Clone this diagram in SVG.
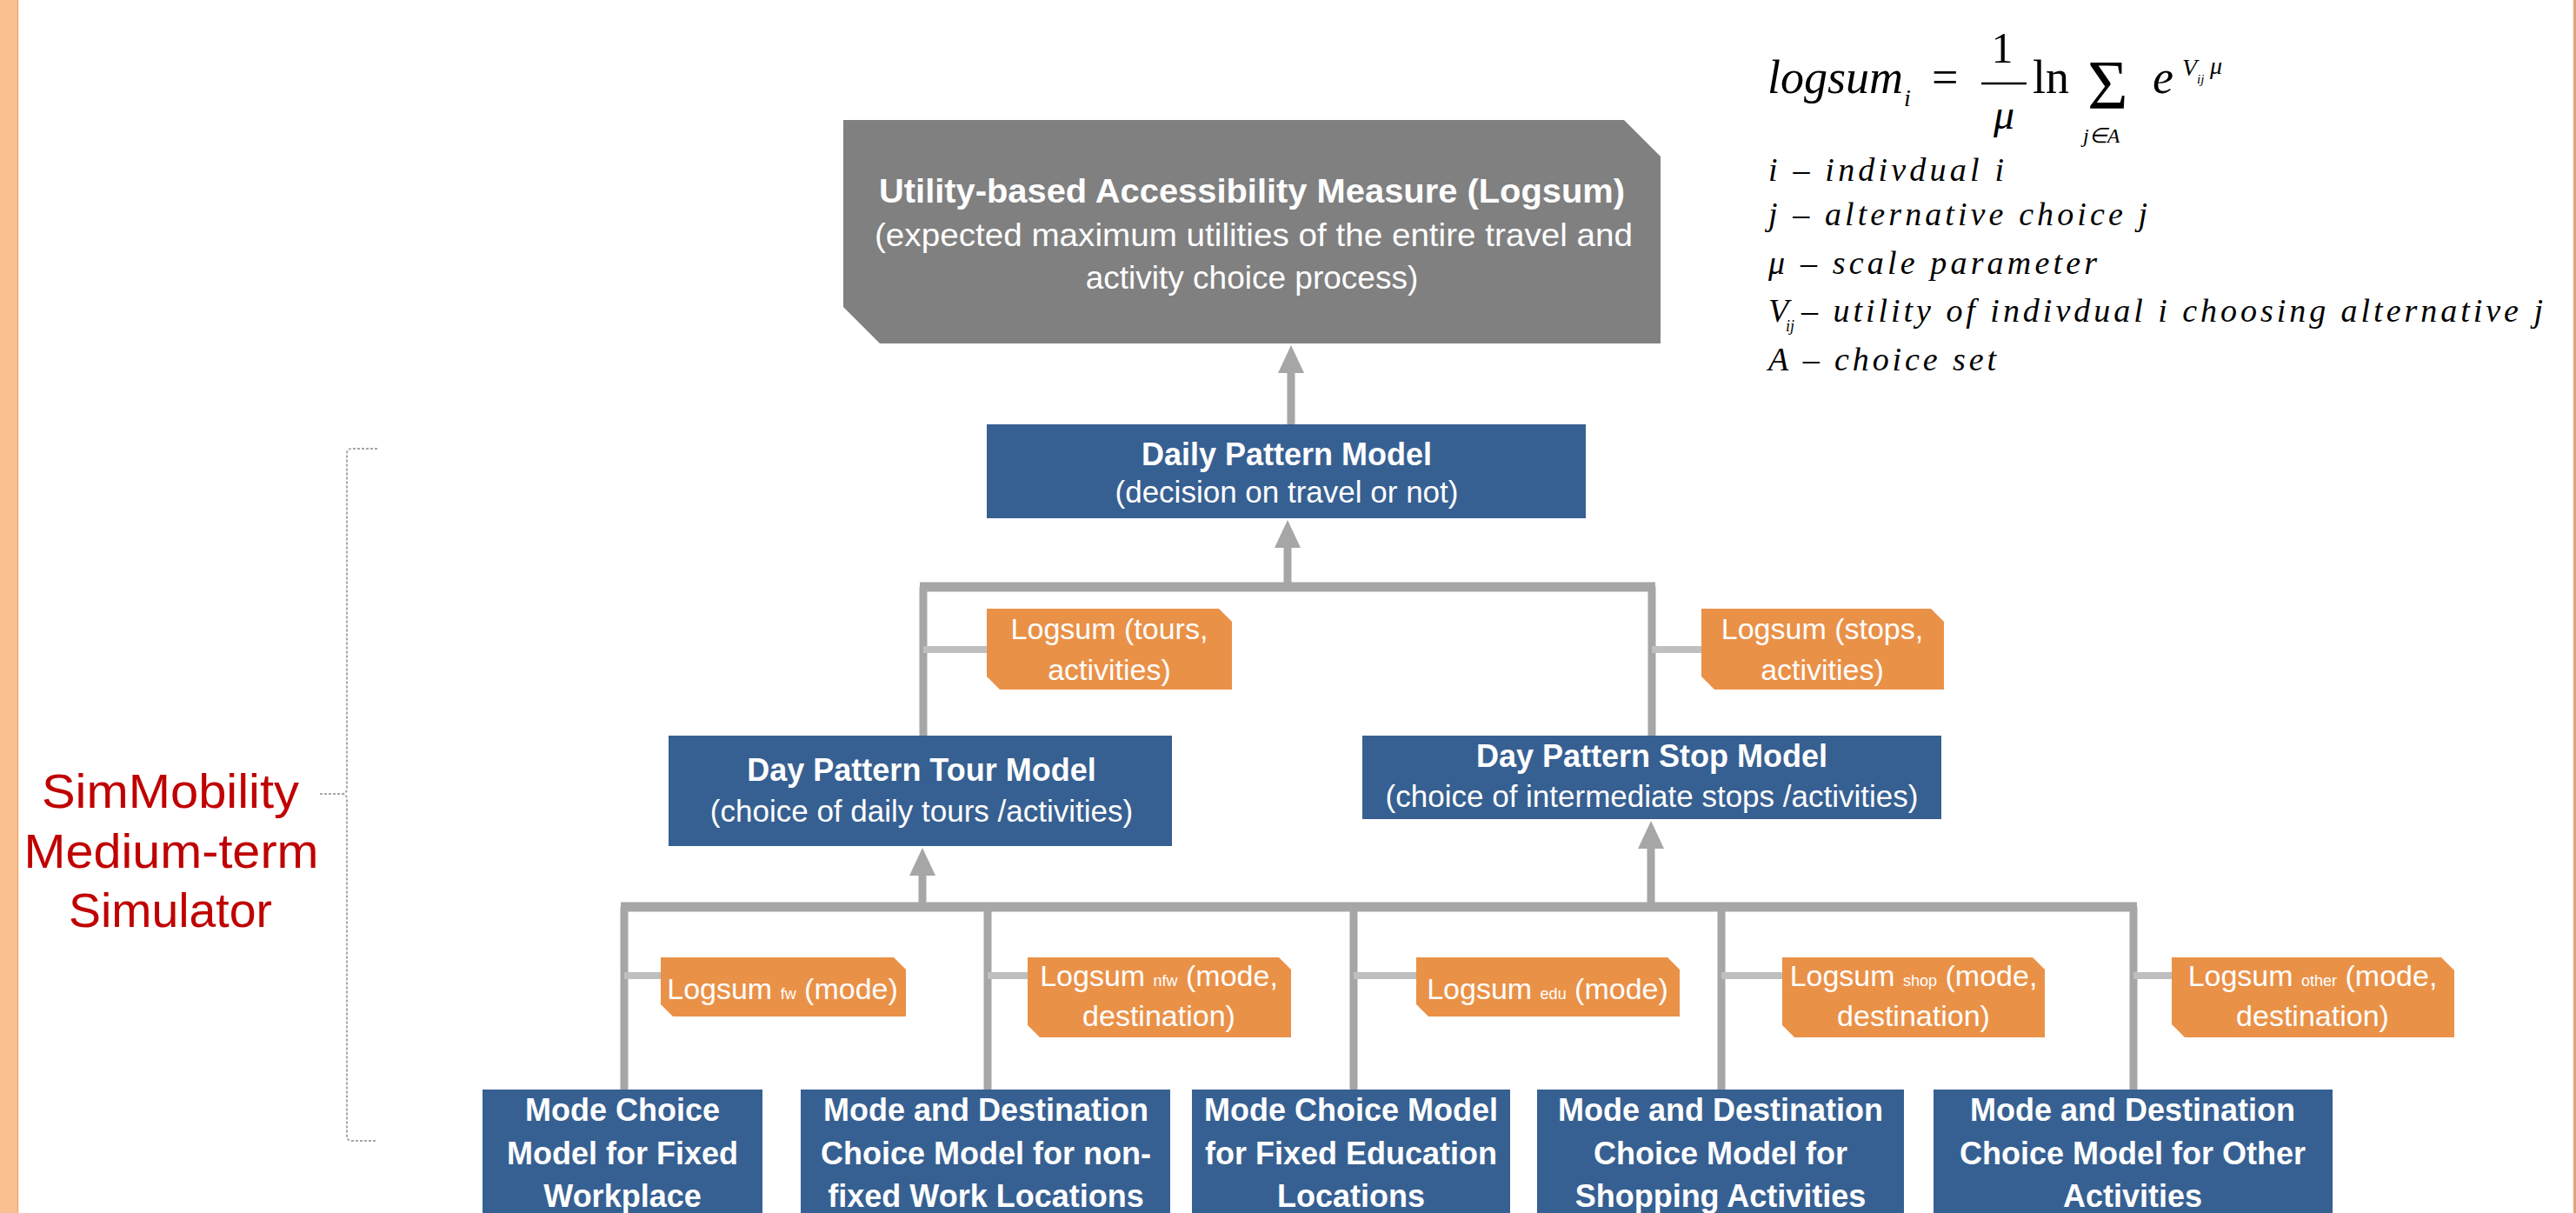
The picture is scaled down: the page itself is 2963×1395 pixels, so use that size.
<svg xmlns="http://www.w3.org/2000/svg" width="2963" height="1395" viewBox="0 0 2963 1395">
<style>
.bg{fill:#ffffff}
.side{fill:#FAC090}
.blue{fill:#376092}
.gray{fill:#808080}
.orange{fill:#EA9148}
.t{fill:#ffffff;font-family:"Liberation Sans",Arial,sans-serif;text-anchor:middle}
.tb{font-weight:bold;font-size:36px}
.tr{font-size:35px}
.lb{font-size:34px}
.sub{font-size:18px}
.conn{stroke:#A6A6A6;stroke-width:9;fill:none}
.bar{stroke:#A6A6A6;stroke-width:11;fill:none}
.stub{stroke:#BFBFBF;stroke-width:8;fill:none}
.m{font-family:"Liberation Serif","Times New Roman",serif;font-style:italic;fill:#000}
.mu{font-family:"Liberation Serif","Times New Roman",serif;fill:#000}
.red{fill:#C00000;font-family:"Liberation Sans",Arial,sans-serif;font-size:56px;text-anchor:middle}
</style>
<defs>
<marker id="ah" markerUnits="userSpaceOnUse" markerWidth="32" markerHeight="30" viewBox="0 0 32 30" refX="0" refY="15" orient="auto"><path d="M0,0 L32,15 L0,30 Z" fill="#A6A6A6"/></marker>
</defs>
<rect class="bg" x="0" y="0" width="2963" height="1395"/>
<rect class="side" x="0" y="0" width="20" height="1395"/>
<line x1="20.5" y1="0" x2="20.5" y2="1395" stroke="#EBAA74" stroke-width="1.5"/>
<rect x="2960" y="0" width="3" height="1395" fill="#DDA47A"/>

<g id="formula">
<text class="m" x="2033" y="107" font-size="54">logsum</text>
<text class="m" x="2190" y="122" font-size="28">i</text>
<text class="mu" x="2222" y="107" font-size="54">=</text>
<text class="mu" x="2303" y="72" font-size="50" text-anchor="middle">1</text>
<line x1="2279" y1="96" x2="2331" y2="96" stroke="#000" stroke-width="2.5"/>
<text class="m" x="2305" y="148" font-size="48" text-anchor="middle">μ</text>
<text class="mu" x="2338" y="107" font-size="54">ln</text>
<text class="mu" x="2401" y="125" font-size="80">Σ</text>
<text class="m" x="2396" y="164" font-size="24">j<tspan class="mu">∈</tspan>A</text>
<text class="m" x="2476" y="107" font-size="54">e</text>
<text class="m" x="2510" y="87" font-size="28">V</text>
<text class="m" x="2527" y="96" font-size="15">ij</text>
<text class="m" x="2542" y="85" font-size="28">μ</text>
<text class="m" x="2034" y="208" font-size="38" textLength="271" lengthAdjust="spacing">i – indivdual  i</text>
<text class="m" x="2034" y="259" font-size="38" textLength="436" lengthAdjust="spacing">j – alternative  choice  j</text>
<text class="m" x="2034" y="315" font-size="38" textLength="378" lengthAdjust="spacing">μ – scale  parameter</text>
<text class="m" x="2034" y="370" font-size="38">V</text>
<text class="m" x="2054" y="381" font-size="18">ij</text>
<text class="m" x="2072" y="370" font-size="38" textLength="853" lengthAdjust="spacing">– utility of  indivdual  i choosing  alternative  j</text>
<text class="m" x="2034" y="426" font-size="38" textLength="262" lengthAdjust="spacing">A – choice set</text>
</g>

<g id="simulator-label">
<text class="red" x="196" y="929" textLength="296" lengthAdjust="spacingAndGlyphs">SimMobility</text>
<text class="red" x="197" y="998" textLength="339" lengthAdjust="spacingAndGlyphs">Medium-term</text>
<text class="red" x="196" y="1066" textLength="234" lengthAdjust="spacingAndGlyphs">Simulator</text>
<path d="M434,516 H405 Q399,516 399,522 V907 Q399,913 393,913 H367 M393,913 Q399,913 399,919 V1306 Q399,1312 405,1312 H434" fill="none" stroke="#A6A6A6" stroke-width="2" stroke-dasharray="3 2"/>
</g>

<g id="connectors">
<line class="conn" x1="1485" y1="488" x2="1485" y2="429" stroke-width="11" marker-end="url(#ah)"/>
<line class="conn" x1="1481" y1="675" x2="1481" y2="630" marker-end="url(#ah)"/>
<line class="bar" x1="1058" y1="675" x2="1904" y2="675"/>
<line class="conn" x1="1062" y1="675" x2="1062" y2="846"/>
<line class="conn" x1="1900" y1="675" x2="1900" y2="846"/>
<line class="stub" x1="1062" y1="747" x2="1135" y2="747"/>
<line class="stub" x1="1900" y1="747" x2="1957" y2="747"/>
<line class="conn" x1="1061" y1="1043" x2="1061" y2="1007" marker-end="url(#ah)"/>
<line class="conn" x1="1899" y1="1043" x2="1899" y2="976" marker-end="url(#ah)"/>
<line class="bar" x1="714" y1="1043" x2="2458" y2="1043"/>
<line class="conn" x1="718" y1="1043" x2="718" y2="1253"/>
<line class="conn" x1="1136" y1="1043" x2="1136" y2="1253"/>
<line class="conn" x1="1557" y1="1043" x2="1557" y2="1253"/>
<line class="conn" x1="1980" y1="1043" x2="1980" y2="1253"/>
<line class="conn" x1="2454" y1="1043" x2="2454" y2="1253"/>
<line class="stub" x1="718" y1="1122" x2="760" y2="1122"/>
<line class="stub" x1="1136" y1="1122" x2="1182" y2="1122"/>
<line class="stub" x1="1557" y1="1122" x2="1629" y2="1122"/>
<line class="stub" x1="1980" y1="1122" x2="2050" y2="1122"/>
<line class="stub" x1="2454" y1="1122" x2="2498" y2="1122"/>
</g>

<g id="accessibility">
<path class="gray" d="M970,138 H1868 L1910,180 V395 H1012 L970,353 Z"/>
<text class="t" x="1440" y="233" font-weight="bold" font-size="38" textLength="858" lengthAdjust="spacingAndGlyphs">Utility-based Accessibility Measure  (Logsum)</text>
<text class="t" x="1442" y="283" font-size="37" textLength="872" lengthAdjust="spacingAndGlyphs">(expected maximum  utilities of the entire travel and</text>
<text class="t" x="1440" y="332" font-size="37">activity choice process)</text>
</g>

<g id="daily-pattern">
<rect class="blue" x="1135" y="488" width="689" height="108"/>
<text class="t tb" x="1480" y="535">Daily Pattern Model</text>
<text class="t tr" x="1480" y="578">(decision on travel or not)</text>
</g>

<g id="logsum-tours">
<path class="orange" d="M1135,700 H1402 L1417,715 V793 H1150 L1135,778 Z"/>
<text class="t lb" x="1276" y="735">Logsum (tours,</text>
<text class="t lb" x="1276" y="782">activities)</text>
</g>

<g id="logsum-stops">
<path class="orange" d="M1957,700 H2221 L2236,715 V793 H1972 L1957,778 Z"/>
<text class="t lb" x="2096" y="735">Logsum (stops,</text>
<text class="t lb" x="2096" y="782">activities)</text>
</g>

<g id="tour-model">
<rect class="blue" x="769" y="846" width="579" height="127"/>
<text class="t tb" x="1060" y="898">Day Pattern Tour Model</text>
<text class="t tr" x="1060" y="945">(choice of daily tours /activities)</text>
</g>

<g id="stop-model">
<rect class="blue" x="1567" y="846" width="666" height="96"/>
<text class="t tb" x="1900" y="882">Day Pattern Stop Model</text>
<text class="t tr" x="1900" y="928">(choice of intermediate stops /activities)</text>
</g>

<g id="logsum-fw">
<path class="orange" d="M760,1101 H1028 L1042,1115 V1169 H774 L760,1155 Z"/>
<text class="t lb" x="900" y="1149">Logsum <tspan class="sub">fw</tspan> (mode)</text>
</g>

<g id="logsum-nfw">
<path class="orange" d="M1182,1101 H1471 L1485,1115 V1193 H1196 L1182,1179 Z"/>
<text class="t lb" x="1333" y="1134">Logsum <tspan class="sub">nfw</tspan> (mode,</text>
<text class="t lb" x="1333" y="1180">destination)</text>
</g>

<g id="logsum-edu">
<path class="orange" d="M1629,1101 H1918 L1932,1115 V1169 H1643 L1629,1155 Z"/>
<text class="t lb" x="1780" y="1149">Logsum <tspan class="sub">edu</tspan> (mode)</text>
</g>

<g id="logsum-shop">
<path class="orange" d="M2050,1101 H2338 L2352,1115 V1193 H2064 L2050,1179 Z"/>
<text class="t lb" x="2201" y="1134">Logsum <tspan class="sub">shop</tspan> (mode,</text>
<text class="t lb" x="2201" y="1180">destination)</text>
</g>

<g id="logsum-other">
<path class="orange" d="M2498,1101 H2808 L2823,1116 V1193 H2513 L2498,1178 Z"/>
<text class="t lb" x="2660" y="1134">Logsum <tspan class="sub">other</tspan> (mode,</text>
<text class="t lb" x="2660" y="1180">destination)</text>
</g>

<g id="mode-fixed-work">
<rect class="blue" x="555" y="1253" width="322" height="150"/>
<text class="t tb" x="716" y="1289">Mode Choice</text>
<text class="t tb" x="716" y="1339">Model for Fixed</text>
<text class="t tb" x="716" y="1388">Workplace</text>
</g>

<g id="mode-dest-nonfixed-work">
<rect class="blue" x="921" y="1253" width="425" height="150"/>
<text class="t tb" x="1134" y="1289">Mode and Destination</text>
<text class="t tb" x="1134" y="1339">Choice Model for non-</text>
<text class="t tb" x="1134" y="1388">fixed Work Locations</text>
</g>

<g id="mode-fixed-education">
<rect class="blue" x="1371" y="1253" width="366" height="150"/>
<text class="t tb" x="1554" y="1289">Mode Choice Model</text>
<text class="t tb" x="1554" y="1339">for Fixed Education</text>
<text class="t tb" x="1554" y="1388">Locations</text>
</g>

<g id="mode-dest-shopping">
<rect class="blue" x="1768" y="1253" width="422" height="150"/>
<text class="t tb" x="1979" y="1289">Mode and Destination</text>
<text class="t tb" x="1979" y="1339">Choice Model for</text>
<text class="t tb" x="1979" y="1388">Shopping Activities</text>
</g>

<g id="mode-dest-other">
<rect class="blue" x="2224" y="1253" width="459" height="150"/>
<text class="t tb" x="2453" y="1289">Mode and Destination</text>
<text class="t tb" x="2453" y="1339">Choice Model for Other</text>
<text class="t tb" x="2453" y="1388">Activities</text>
</g>
</svg>
